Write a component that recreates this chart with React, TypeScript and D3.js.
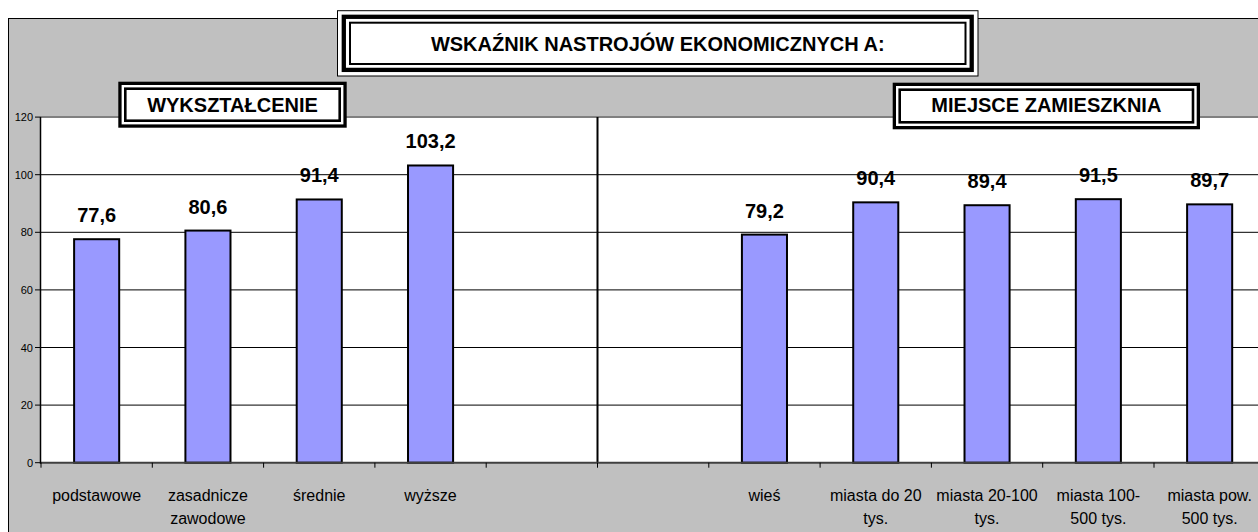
import React from 'react'
import * as d3 from 'd3'

// values
const educationCategories = ['podstawowe', 'zasadnicze\nzawodowe', 'średnie', 'wyższe']
const educationValues = [77.6, 80.6, 91.4, 103.2]
const placeCategories = ['wieś', 'miasta do 20\ntys.', 'miasta 20-100\ntys.', 'miasta 100-\n500 tys.', 'miasta pow.\n500 tys.']
const placeValues = [79.2, 90.4, 89.4, 91.5, 89.7]
const gapSlots = ['', '']
const yTicks = [0, 20, 40, 60, 80, 100, 120]

const FONT = "Arial, 'Liberation Sans', sans-serif"
const W = 1258
const H = 532

const slots = [...educationCategories, ...gapSlots, ...placeCategories]
const values = [...educationValues, null, null, ...placeValues]

// a box with a double (or triple) frame, like the Excel title boxes
function FramedBox({ x0, y0, x1, y1, text, triple, baseline }) {
    const w = x1 - x0, h = y1 - y0
    if (triple) {
        return (
            <g>
                <rect x={x0 + 0.5} y={y0 + 0.5} width={w - 1} height={h - 1} fill="#fff" stroke="#000" strokeWidth={1} />
                <rect x={x0 + 6.8} y={y0 + 6.6} width={w - 13.6} height={h - 13.2} fill="none" stroke="#000" strokeWidth={4.3} />
                <rect x={x0 + 13} y={y0 + 12.5} width={w - 26} height={h - 25} fill="none" stroke="#000" strokeWidth={2} />
                <text x={x0 + w / 2} y={baseline} textAnchor="middle" fontFamily={FONT} fontWeight="bold" fontSize={20}>{text}</text>
            </g>
        )
    }
    return (
        <g>
            <rect x={x0 + 1.65} y={y0 + 1.65} width={w - 3.3} height={h - 3.3} fill="#fff" stroke="#000" strokeWidth={3.3} />
            <rect x={x0 + 7} y={y0 + 7} width={w - 14} height={h - 14} fill="none" stroke="#000" strokeWidth={2.6} />
            <text x={x0 + w / 2} y={baseline} textAnchor="middle" fontFamily={FONT} fontWeight="bold" fontSize={20}>{text}</text>
        </g>
    )
}

export default function App() {
    const left = 41, right = 1265.3, top = 117.1, bottom = 462.7

    const x = d3.scaleBand().domain(d3.range(slots.length)).range([left, right]).padding(0)
    const y = d3.scaleLinear().domain([0, 120]).range([bottom, top])
    const barW = x.bandwidth() * 0.405
    const boundaries = d3.range(slots.length + 1).map(i => left + i * x.step())
    const divider = boundaries[educationCategories.length + 1]

    return (
        <svg width={W} height={H} style={{ position: 'absolute', left: 0, top: 0 }}>
            {/* chart area */}
            <rect x={8.5} y={18.5} width={1400} height={700} fill="#C0C0C0" stroke="#000" strokeWidth={1} />

            {/* plot area */}
            <rect x={left} y={top} width={right - left} height={bottom - top} fill="#fff" />
            {yTicks.filter(t => t > 0 && t < 120).map(t => (
                <line key={`g-${t}`} x1={left} x2={right} y1={y(t)} y2={y(t)} stroke="#000" strokeWidth={1} />
            ))}
            <line x1={left} x2={right} y1={top} y2={top} stroke="#808080" strokeWidth={2} />

            {/* bars */}
            {values.map((v, i) => v == null ? null : (
                <rect key={`b-${i}`} x={x(i) + (x.bandwidth() - barW) / 2} y={y(v)} width={barW} height={bottom - y(v)}
                    fill="#9999FF" stroke="#000" strokeWidth={2} />
            ))}
            {values.map((v, i) => v == null ? null : (
                <text key={`v-${i}`} x={x(i) + x.bandwidth() / 2} y={y(v) - 17} textAnchor="middle"
                    fontFamily={FONT} fontWeight="bold" fontSize={20}>{String(v).replace('.', ',')}</text>
            ))}

            {/* divider between the two groups */}
            <line x1={divider} x2={divider} y1={top} y2={bottom} stroke="#000" strokeWidth={2} />

            {/* axes */}
            <line x1={left} x2={right} y1={bottom} y2={bottom} stroke="#404040" strokeWidth={2} />
            <line x1={left - 0.5} x2={left - 0.5} y1={top} y2={bottom + 1} stroke="#000" strokeWidth={1.5} />
            {yTicks.map(t => (
                <g key={`yt-${t}`}>
                    <line x1={left - 6} x2={left} y1={y(t)} y2={y(t)} stroke="#000" strokeWidth={1} />
                    <text x={left - 8} y={y(t) + 4} textAnchor="end" fontFamily={FONT} fontSize={11}>{t}</text>
                </g>
            ))}
            {boundaries.map((b, i) => (
                <line key={`xt-${i}`} x1={b} x2={b} y1={bottom} y2={bottom + 5} stroke="#000" strokeWidth={1} />
            ))}
            {slots.map((s, i) => s.split('\n').map((line, j) => (
                <text key={`c-${i}-${j}`} x={x(i) + x.bandwidth() / 2} y={501 + j * 22.5} textAnchor="middle"
                    fontFamily={FONT} fontSize={16}>{line}</text>
            )))}

            {/* titles */}
            <FramedBox x0={337} y0={10.2} x1={978.5} y1={76.5} triple text="WSKAŹNIK NASTROJÓW EKONOMICZNYCH A:" baseline={51} />
            <FramedBox x0={118.3} y0={81.7} x1={346.7} y1={127.7} text="WYKSZTAŁCENIE" baseline={111.5} />
            <FramedBox x0={892.7} y0={82.7} x1={1200} y1={129.3} text="MIEJSCE ZAMIESZKNIA" baseline={112.3} />
        </svg>
    )
}
